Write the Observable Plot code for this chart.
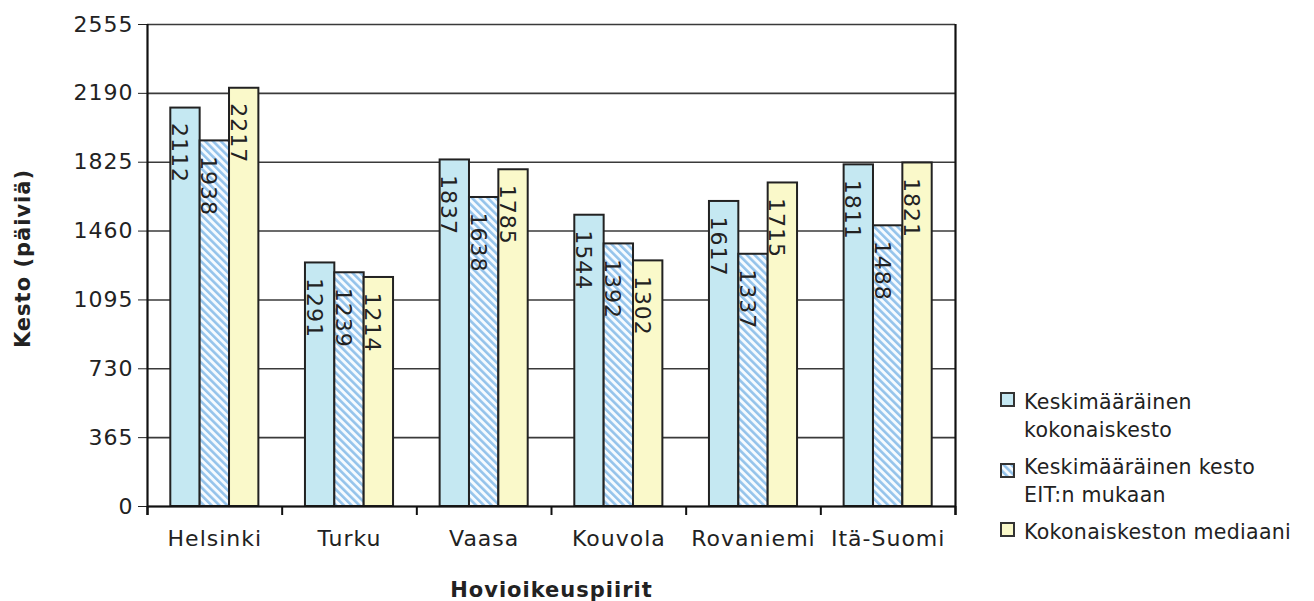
<!DOCTYPE html>
<html>
<head>
<meta charset="utf-8">
<script src="https://cdn.jsdelivr.net/npm/d3@7"></script>
<script src="https://cdn.jsdelivr.net/npm/@observablehq/plot@0.6"></script>
<style>
  html, body { margin: 0; padding: 0; background: #fff; overflow: hidden; }
  #chart svg { display: block; }
  #legend { position: absolute; left: 1000px; top: 388px; font-family: "DejaVu Sans", sans-serif;
            font-size: 20.5px; letter-spacing: 0.3px; line-height: 28px; color: #222; }
  .item { display: flex; align-items: flex-start; margin-bottom: 9px; white-space: nowrap; }
  .sw { width: 11px; height: 11px; border: 2px solid #333; margin-top: 4px; margin-right: 9px; flex: none; }
</style>
</head>
<body>
<svg width="0" height="0" style="position:absolute">
  <defs>
    <pattern id="hatch" patternUnits="userSpaceOnUse" width="5.5" height="5.5" patternTransform="rotate(-45)">
      <rect width="5.5" height="5.5" fill="#f6fbff"></rect>
      <rect width="2.6" height="5.5" fill="#94c3eb"></rect>
    </pattern>
  </defs>
</svg>
<div id="chart"></div>
<div id="legend"></div>
<script>
// ---- data ----
const categories = ["Helsinki", "Turku", "Vaasa", "Kouvola", "Rovaniemi", "Itä-Suomi"];
const seriesNames = ["Keskimääräinen kokonaiskesto", "Keskimääräinen kesto EIT:n mukaan", "Kokonaiskeston mediaani"];
const legendLines = [["Keskimääräinen", "kokonaiskesto"], ["Keskimääräinen kesto", "EIT:n mukaan"], ["Kokonaiskeston mediaani"]];
const kokonaiskesto = [2112, 1291, 1837, 1544, 1617, 1811];
const kestoEIT = [1938, 1239, 1638, 1392, 1337, 1488];
const mediaani = [2217, 1214, 1785, 1302, 1715, 1821];
const yTicks = [0, 365, 730, 1095, 1460, 1825, 2190, 2555];
const yLabel = "Kesto (päiviä)";
const xLabel = "Hovioikeuspiirit";
const seriesFills = ["#c5e8f2", "url(#hatch)", "#faf9ca"];

// ---- layout helpers (fractions of a category slot) ----
const groupPad = 0.173;
const barW = (1 - 2 * groupPad) / 3;
const values = [kokonaiskesto, kestoEIT, mediaani];
const n = categories.length;
const rows = categories.flatMap((c, i) =>
  seriesNames.map((s, k) => ({c, i, k, s, v: values[k][i]})));
const x1 = d => d.i + groupPad + d.k * barW;
const x2 = d => d.i + groupPad + (d.k + 1) * barW;
const xc = d => d.i + groupPad + (d.k + 0.5) * barW;
const yMax = yTicks[yTicks.length - 1];

const chart = Plot.plot({
  width: 1314,
  height: 601,
  marginLeft: 147,
  marginRight: 359,
  marginTop: 24,
  marginBottom: 95,
  style: {fontFamily: "DejaVu Sans, sans-serif", fontSize: "22px", color: "#222", background: "#fff", letterSpacing: "1px", overflow: "visible"},
  x: {
    domain: [0, n],
    ticks: categories.map((c, i) => i + 0.5),
    tickFormat: v => categories[Math.round(v - 0.5)],
    tickSize: 0,
    tickPadding: 24,
    label: null
  },
  y: {
    domain: [0, yMax],
    ticks: yTicks,
    tickFormat: d => String(d),
    tickSize: 9,
    tickPadding: 5,
    label: null
  },
  color: {domain: seriesNames, range: seriesFills},
  marks: [
    Plot.ruleY(yTicks, {stroke: "#3a3a3a", strokeWidth: 1.6}),
    Plot.rect(rows, {x1, x2, y1: 0, y2: "v", fill: "s", stroke: "#222", strokeWidth: 2}),
    Plot.ruleY([0], {stroke: "#111", strokeWidth: 2.2}),
    Plot.ruleX(d3.range(n + 1), {y1: 0, y2: 0, insetBottom: -9, stroke: "#111", strokeWidth: 2}),
    Plot.ruleX([0, n], {y1: yMax, y2: 0, insetBottom: -9, stroke: "#111", strokeWidth: 2.2}),
    Plot.text(rows, {x: xc, y: "v", text: d => String(d.v), rotate: 90, textAnchor: "start",
      dy: 15, dx: -6.5, fontSize: 22, fill: "#222"}),
    Plot.text([xLabel], {frameAnchor: "bottom", textAnchor: "middle", lineAnchor: "bottom", dy: 90,
      fontWeight: "bold", fontSize: 21, fill: "#222"}),
    Plot.text([yLabel], {frameAnchor: "left", textAnchor: "middle", lineAnchor: "middle", dx: -124, dy: -7,
      rotate: -90, fontWeight: "bold", fontSize: 21, fill: "#222", letterSpacing: "1.6px"})
  ]
});
document.getElementById("chart").appendChild(chart);

// ---- legend ----
const legend = document.getElementById("legend");
seriesNames.forEach((s, k) => {
  const item = document.createElement("div");
  item.className = "item";
  const sw = document.createElement("div");
  sw.className = "sw";
  if (k === 1) {
    sw.style.border = "none";
    sw.style.width = "15px"; sw.style.height = "15px";
    sw.innerHTML = '<svg width="15" height="15"><rect x="1" y="1" width="13" height="13" fill="url(#hatch)" stroke="#333" stroke-width="2"></rect></svg>';
  } else {
    sw.style.background = seriesFills[k];
  }
  const t = document.createElement("div");
  t.innerHTML = legendLines[k].join("<br>");
  item.appendChild(sw);
  item.appendChild(t);
  legend.appendChild(item);
});
</script>
</body>
</html>
